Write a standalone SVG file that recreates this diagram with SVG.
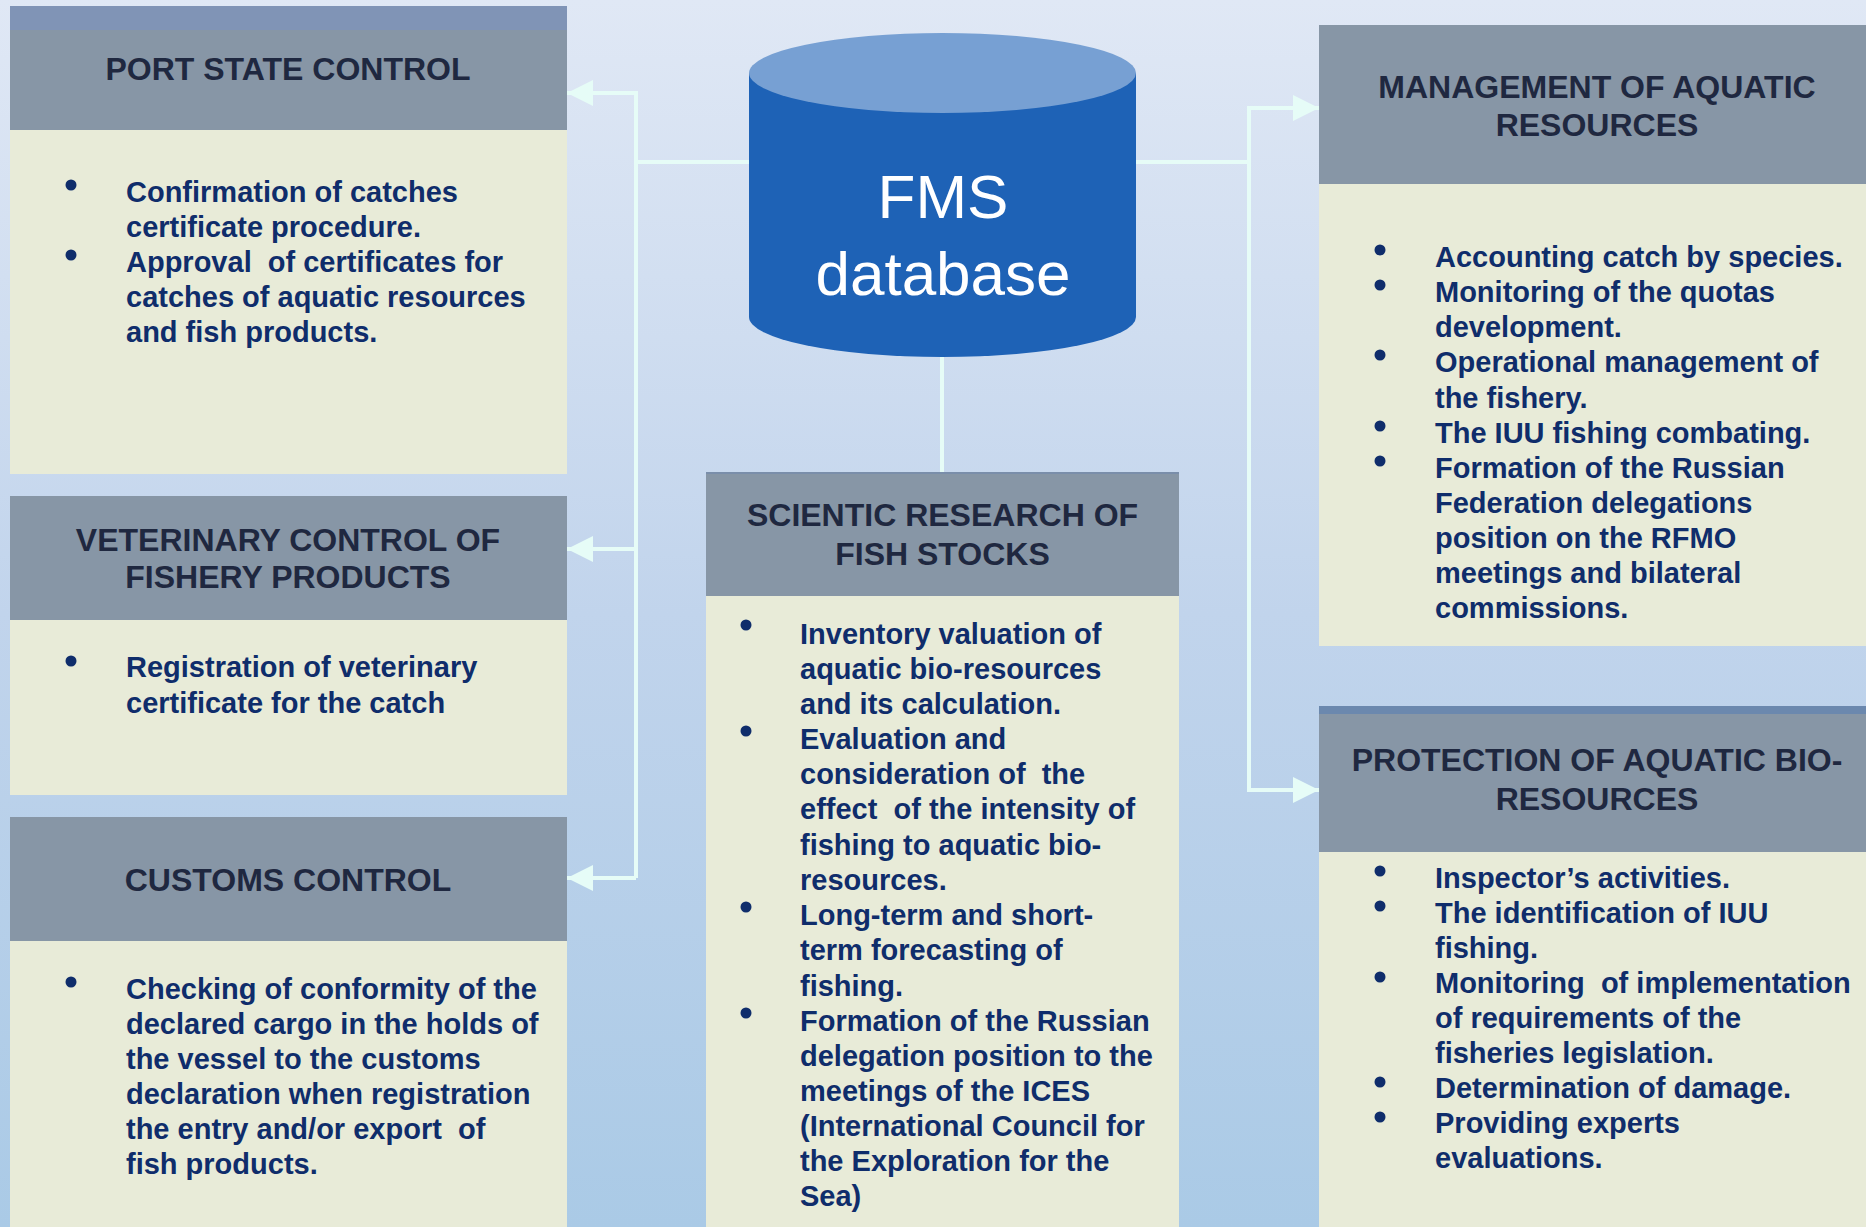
<svg xmlns="http://www.w3.org/2000/svg" width="1866" height="1227" viewBox="0 0 1866 1227">
<defs>
<linearGradient id="bg" x1="0" y1="0" x2="0" y2="1">
<stop offset="0" stop-color="#e0e8f5"/>
<stop offset="0.5" stop-color="#c1d4ec"/>
<stop offset="1" stop-color="#aacae6"/>
</linearGradient>
<marker id="arr" markerUnits="userSpaceOnUse" markerWidth="26" markerHeight="26" refX="26" refY="13" orient="auto">
<path d="M0,0 L26,13 L0,26 Z" fill="#e6fcf7"/>
</marker>
<style>
.hdr{fill:#8796a6}
.body{fill:#e8ebd8}
.strip{fill:#8094b6}
.ttl{font-family:"Liberation Sans",Arial,sans-serif;font-weight:bold;font-size:32px;fill:#1f2840;text-anchor:middle}
.txt{font-family:"Liberation Sans",Arial,sans-serif;font-weight:bold;font-size:29px;fill:#0f2d6b;white-space:pre}
.bul{fill:#0f2d6b}
.con{fill:none;stroke:#e6fcf7;stroke-width:4}
.db{font-family:"Liberation Sans",Arial,sans-serif;font-size:62px;fill:#ffffff;text-anchor:middle}
</style>
</defs>
<rect x="0" y="0" width="1866" height="1227" fill="url(#bg)"/>

<g id="connectors">
<polyline class="con" points="749,162 636,162"/>
<polyline class="con" points="636,91 636,878"/>
<polyline class="con" points="636,93 567,93" marker-end="url(#arr)"/>
<polyline class="con" points="636,549 567,549" marker-end="url(#arr)"/>
<polyline class="con" points="636,878 567,878" marker-end="url(#arr)"/>
<polyline class="con" points="1136,162 1249,162"/>
<polyline class="con" points="1249,106 1249,792"/>
<polyline class="con" points="1249,108 1319,108" marker-end="url(#arr)"/>
<polyline class="con" points="1249,790 1319,790" marker-end="url(#arr)"/>
<polyline class="con" points="942,357 942,472"/>
</g>

<g id="fms-database">
<path d="M749,73 L749,317 A193.5,40 0 0 0 1136,317 L1136,73 Z" fill="#1e62b6"/>
<ellipse cx="942.5" cy="73" rx="193.5" ry="40" fill="#77a0d3"/>
<text class="db" x="943" y="218">FMS</text>
<text class="db" x="943" y="295">database</text>
</g>

<g id="port-state-control">
<rect class="strip" x="10" y="6" width="557" height="24"/>
<rect class="hdr" x="10" y="30" width="557" height="100"/>
<rect class="body" x="10" y="130" width="557" height="344"/>
<text class="ttl" x="288" y="80">PORT STATE CONTROL</text>
<circle class="bul" cx="71" cy="185" r="5.5"/>
<circle class="bul" cx="71" cy="255" r="5.5"/>
<text class="txt"><tspan x="126" y="202">Confirmation of catches</tspan><tspan x="126" y="237">certificate procedure.</tspan><tspan x="126" y="272">Approval  of certificates for</tspan><tspan x="126" y="307">catches of aquatic resources</tspan><tspan x="126" y="342">and fish products.</tspan></text>
</g>

<g id="veterinary-control">
<rect class="hdr" x="10" y="496" width="557" height="124"/>
<rect class="body" x="10" y="620" width="557" height="175"/>
<text class="ttl"><tspan x="288" y="551">VETERINARY CONTROL OF</tspan><tspan x="288" y="588">FISHERY PRODUCTS</tspan></text>
<circle class="bul" cx="71" cy="661" r="5.5"/>
<text class="txt"><tspan x="126" y="677">Registration of veterinary</tspan><tspan x="126" y="713">certificate for the catch</tspan></text>
</g>

<g id="customs-control">
<rect class="hdr" x="10" y="817" width="557" height="124"/>
<rect class="body" x="10" y="941" width="557" height="286"/>
<text class="ttl" x="288" y="891">CUSTOMS CONTROL</text>
<circle class="bul" cx="71" cy="982" r="5.5"/>
<text class="txt"><tspan x="126" y="999">Checking of conformity of the</tspan><tspan x="126" y="1034">declared cargo in the holds of</tspan><tspan x="126" y="1069">the vessel to the customs</tspan><tspan x="126" y="1104">declaration when registration</tspan><tspan x="126" y="1139">the entry and/or export  of</tspan><tspan x="126" y="1174">fish products.</tspan></text>
</g>

<g id="scientific-research">
<rect class="hdr" x="706" y="472" width="473" height="124"/>
<rect x="706" y="472" width="473" height="2" fill="#7a8eaa"/>
<rect class="body" x="706" y="596" width="473" height="631"/>
<text class="ttl"><tspan x="942.5" y="526">SCIENTIC RESEARCH OF</tspan><tspan x="942.5" y="565">FISH STOCKS</tspan></text>
<circle class="bul" cx="746" cy="625" r="5.5"/>
<circle class="bul" cx="746" cy="731" r="5.5"/>
<circle class="bul" cx="746" cy="907" r="5.5"/>
<circle class="bul" cx="746" cy="1013" r="5.5"/>
<text class="txt"><tspan x="800" y="644">Inventory valuation of</tspan><tspan x="800" y="679">aquatic bio-resources</tspan><tspan x="800" y="714">and its calculation.</tspan><tspan x="800" y="749">Evaluation and</tspan><tspan x="800" y="784">consideration of  the</tspan><tspan x="800" y="819">effect  of the intensity of</tspan><tspan x="800" y="855">fishing to aquatic bio-</tspan><tspan x="800" y="890">resources.</tspan><tspan x="800" y="925">Long-term and short-</tspan><tspan x="800" y="960">term forecasting of</tspan><tspan x="800" y="996">fishing.</tspan><tspan x="800" y="1031">Formation of the Russian</tspan><tspan x="800" y="1066">delegation position to the</tspan><tspan x="800" y="1101">meetings of the ICES</tspan><tspan x="800" y="1136">(International Council for</tspan><tspan x="800" y="1171">the Exploration for the</tspan><tspan x="800" y="1206">Sea)</tspan></text>
</g>

<g id="management-aquatic-resources">
<rect class="hdr" x="1319" y="25" width="547" height="159"/>
<rect class="body" x="1319" y="184" width="547" height="462"/>
<text class="ttl"><tspan x="1597" y="98">MANAGEMENT OF AQUATIC</tspan><tspan x="1597" y="136">RESOURCES</tspan></text>
<circle class="bul" cx="1380" cy="250" r="5.5"/>
<circle class="bul" cx="1380" cy="285" r="5.5"/>
<circle class="bul" cx="1380" cy="355" r="5.5"/>
<circle class="bul" cx="1380" cy="426" r="5.5"/>
<circle class="bul" cx="1380" cy="461" r="5.5"/>
<text class="txt"><tspan x="1435" y="267">Accounting catch by species.</tspan><tspan x="1435" y="302">Monitoring of the quotas</tspan><tspan x="1435" y="337">development.</tspan><tspan x="1435" y="372">Operational management of</tspan><tspan x="1435" y="408">the fishery.</tspan><tspan x="1435" y="443">The IUU fishing combating.</tspan><tspan x="1435" y="478">Formation of the Russian</tspan><tspan x="1435" y="513">Federation delegations</tspan><tspan x="1435" y="548">position on the RFMO</tspan><tspan x="1435" y="583">meetings and bilateral</tspan><tspan x="1435" y="618">commissions.</tspan></text>
</g>

<g id="protection-aquatic-bioresources">
<rect x="1319" y="706" width="547" height="8" fill="#6b88ae"/>
<rect class="hdr" x="1319" y="714" width="547" height="138"/>
<rect class="body" x="1319" y="852" width="547" height="375"/>
<text class="ttl"><tspan x="1597" y="771">PROTECTION OF AQUATIC BIO-</tspan><tspan x="1597" y="810">RESOURCES</tspan></text>
<circle class="bul" cx="1380" cy="871" r="5.5"/>
<circle class="bul" cx="1380" cy="906" r="5.5"/>
<circle class="bul" cx="1380" cy="977" r="5.5"/>
<circle class="bul" cx="1380" cy="1082" r="5.5"/>
<circle class="bul" cx="1380" cy="1117" r="5.5"/>
<text class="txt"><tspan x="1435" y="888">Inspector’s activities.</tspan><tspan x="1435" y="923">The identification of IUU</tspan><tspan x="1435" y="958">fishing.</tspan><tspan x="1435" y="993">Monitoring  of implementation</tspan><tspan x="1435" y="1028">of requirements of the</tspan><tspan x="1435" y="1063">fisheries legislation.</tspan><tspan x="1435" y="1098">Determination of damage.</tspan><tspan x="1435" y="1133">Providing experts</tspan><tspan x="1435" y="1168">evaluations.</tspan></text>
</g>
</svg>
